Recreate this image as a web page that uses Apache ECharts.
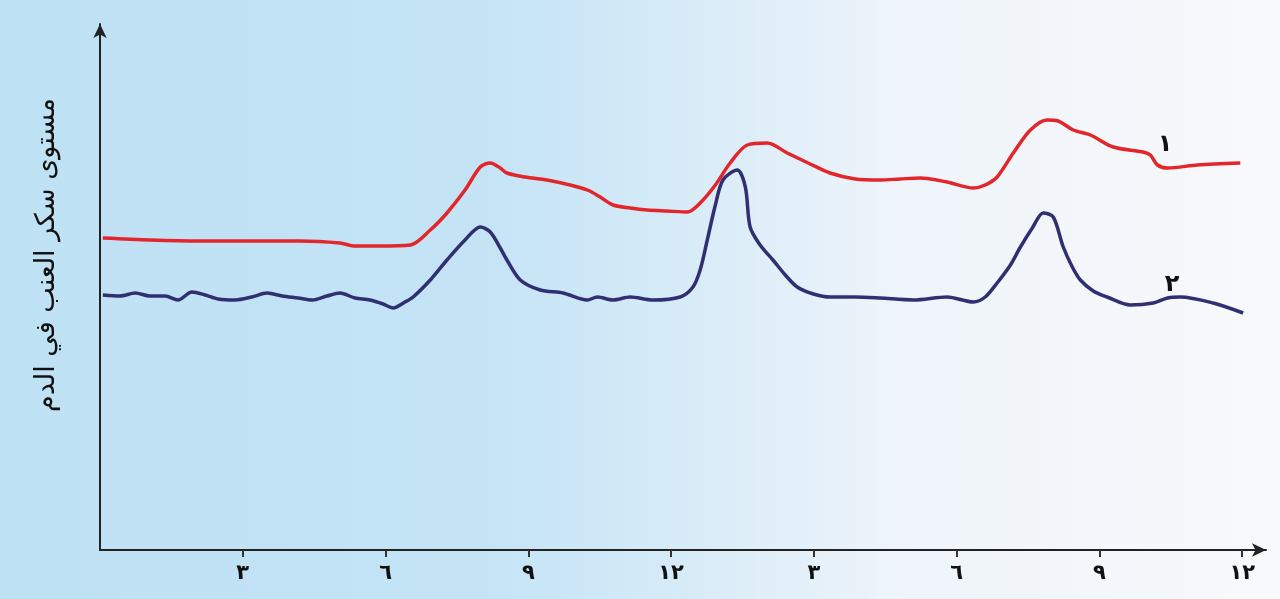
<!DOCTYPE html>
<html>
<head>
<meta charset="utf-8">
<script src="https://cdn.jsdelivr.net/npm/echarts@6/dist/echarts.min.js"></script>
<style>
  html, body { margin: 0; padding: 0; }
  #main { width: 1280px; height: 599px; }
</style>
</head>
<body>
<div id="main"></div>
<script>
// hours of the day (0..24), level in arbitrary units
var curve1 = [
    [0.06, 62.4], [1.05, 62.0], [2.10, 61.8], [3.15, 61.8], [4.20, 61.8], [5.04, 61.4],
    [5.36, 60.8], [5.88, 60.8], [6.52, 61.0], [6.94, 64.0], [7.29, 67.4], [7.67, 72.0],
    [7.99, 76.6], [8.20, 77.4], [8.41, 76.4], [8.55, 75.4], [8.93, 74.6], [9.39, 74.0],
    [9.88, 73.0], [10.24, 72.0], [10.51, 70.6], [10.78, 69.0], [11.14, 68.4], [11.50, 68.0],
    [11.92, 67.8], [12.34, 67.6], [12.61, 69.4], [12.93, 73.0], [13.24, 77.4], [13.60, 81.0],
    [14.02, 81.4], [14.44, 79.4], [14.88, 77.4], [15.34, 75.4], [15.87, 74.2], [16.39, 74.0],
    [16.81, 74.2], [17.23, 74.4], [17.80, 73.6], [18.35, 72.4], [18.60, 73.0], [18.85, 74.6],
    [19.19, 79.4], [19.55, 84.0], [19.90, 86.0], [20.13, 85.8], [20.45, 84.0], [20.81, 83.0],
    [21.29, 80.6], [21.92, 79.6], [22.07, 79.0], [22.22, 77.0], [22.43, 76.4], [23.06, 77.0],
    [23.96, 77.4]
];
var curve2 = [
    [0.06, 51.0], [0.42, 50.8], [0.74, 51.4], [1.05, 50.8], [1.37, 50.8], [1.64, 50.0],
    [1.93, 51.6], [2.21, 51.0], [2.48, 50.2], [2.84, 50.0], [3.19, 50.6], [3.51, 51.4],
    [3.83, 50.8], [4.16, 50.4], [4.46, 50.0], [4.77, 50.8], [5.04, 51.4], [5.36, 50.4],
    [5.67, 50.0], [5.95, 49.2], [6.16, 48.4], [6.41, 49.6], [6.58, 50.6], [6.94, 54.0],
    [7.29, 58.0], [7.67, 62.0], [7.99, 64.6], [8.20, 63.6], [8.41, 60.4], [8.55, 58.0],
    [8.83, 54.0], [9.25, 52.0], [9.73, 51.4], [10.24, 50.0], [10.45, 50.6], [10.78, 50.0],
    [11.14, 50.6], [11.62, 50.0], [12.19, 50.6], [12.46, 52.6], [12.61, 56.0], [12.76, 62.0],
    [12.93, 69.0], [13.09, 74.0], [13.39, 76.0], [13.56, 72.6], [13.66, 64.6], [13.87, 61.0],
    [14.14, 58.0], [14.40, 55.0], [14.65, 52.6], [14.99, 51.2], [15.34, 50.6], [15.87, 50.6],
    [16.39, 50.4], [17.09, 50.0], [17.80, 50.6], [18.35, 49.6], [18.60, 50.6], [18.85, 53.4],
    [19.13, 57.0], [19.34, 60.6], [19.59, 64.4], [19.82, 67.4], [20.03, 66.6], [20.24, 60.6],
    [20.43, 56.6], [20.60, 54.0], [20.87, 51.8], [21.16, 50.6], [21.65, 49.0], [22.13, 49.4],
    [22.43, 50.4], [22.70, 50.6], [23.39, 49.4], [24.02, 47.4]
];
var hourTicks = [3, 6, 9, 12, 15, 18, 21, 24];
var hourLabels = ['٣', '٦', '٩', '١٢', '٣', '٦', '٩', '١٢'];
var seriesNames = ['١', '٢'];
var yTitle = 'مستوى سكر العنب في الدم';

var chart = echarts.init(document.getElementById('main'));
chart.setOption({
    animation: false,
    backgroundColor: {
        type: 'linear', x: 0, y: 0, x2: 1, y2: 0,
        colorStops: [
            {offset: 0, color: '#bfe1f4'},
            {offset: 0.38, color: '#c4e4f6'},
            {offset: 0.55, color: '#d9ecf8'},
            {offset: 0.7, color: '#eef4fa'},
            {offset: 1, color: '#f8f9fb'}
        ]
    },
    grid: {left: 100, right: 14, top: 24, bottom: 49},
    xAxis: {
        type: 'value',
        min: 0,
        max: 24.5,
        interval: 3,
        splitLine: {show: false},
        axisLine: {
            lineStyle: {color: '#222', width: 2},
            symbol: ['none', 'arrow'],
            symbolSize: [10, 14]
        },
        axisTick: {
            customValues: hourTicks,
            length: 7,
            lineStyle: {color: '#333', width: 2}
        },
        axisLabel: {
            customValues: hourTicks,
            formatter: function (v) {
                var i = hourTicks.indexOf(v);
                return i >= 0 ? hourLabels[i] : '';
            },
            color: '#111',
            fontFamily: 'DejaVu Sans',
            fontWeight: 'bold',
            fontSize: 21,
            margin: 13
        }
    },
    yAxis: {
        type: 'value',
        min: 0,
        max: 105.2,
        splitLine: {show: false},
        axisTick: {show: false},
        axisLabel: {show: false},
        axisLine: {
            show: true,
            lineStyle: {color: '#222', width: 2},
            symbol: ['none', 'arrow'],
            symbolSize: [10, 14]
        }
    },
    graphic: [
        {
            type: 'text',
            x: 47, y: 255,
            rotation: Math.PI / 2,
            style: {
                text: yTitle,
                fill: '#111',
                font: '27px "DejaVu Sans"',
                textAlign: 'center',
                textVerticalAlign: 'middle'
            }
        },
        {
            type: 'text', x: 1165, y: 145,
            style: {text: seriesNames[0], fill: '#111', font: 'bold 24px "DejaVu Sans"', textAlign: 'center', textVerticalAlign: 'middle'}
        },
        {
            type: 'text', x: 1172, y: 285,
            style: {text: seriesNames[1], fill: '#111', font: 'bold 24px "DejaVu Sans"', textAlign: 'center', textVerticalAlign: 'middle'}
        }
    ],
    series: [
        {
            name: seriesNames[0],
            type: 'line',
            data: curve1,
            smooth: 0.3,
            showSymbol: false,
            lineStyle: {color: '#e3262b', width: 3.5}
        },
        {
            name: seriesNames[1],
            type: 'line',
            data: curve2,
            smooth: 0.3,
            showSymbol: false,
            lineStyle: {color: '#302f72', width: 3.5}
        }
    ]
});
</script>
</body>
</html>
